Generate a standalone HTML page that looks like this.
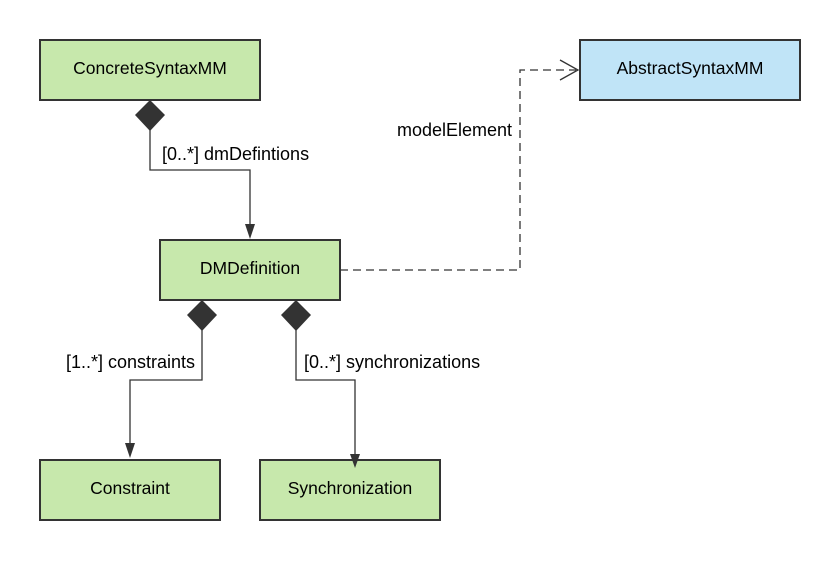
<!DOCTYPE html>
<html><head><meta charset="utf-8"><style>
body{margin:0;background:#fff;}
svg text{font-family:"Liberation Sans",sans-serif;font-size:18px;fill:#000;}
</style></head><body>
<svg width="840" height="560" xmlns="http://www.w3.org/2000/svg">
<g stroke="#333" stroke-width="2">
<rect x="40" y="40" width="220" height="60" fill="#c7e8ac"/>
<rect x="580" y="40" width="220" height="60" fill="#c0e4f7"/>
<rect x="160" y="240" width="180" height="60" fill="#c7e8ac"/>
<rect x="40" y="460" width="180" height="60" fill="#c7e8ac"/>
<rect x="260" y="460" width="180" height="60" fill="#c7e8ac"/>
</g>
<g fill="none" stroke="#333" stroke-width="1.3">
<polyline points="150,130 150,170 250,170 250,226"/>
<polyline points="202,330 202,380 130,380 130,446"/>
<polyline points="296,330 296,380 355,380 355,456"/>
<polyline points="340,270 520,270 520,70 576,70" stroke-dasharray="8,5"/>
<polyline points="560,60 578,70 560,80"/>
</g>
<g fill="#333">
<polygon points="150,100 165,115 150,131 135,115"/>
<polygon points="202,300 217,315 202,331 187,315"/>
<polygon points="296,300 311,315 296,331 281,315"/>
<polygon points="245,224 255,224 250,239"/>
<polygon points="125,443 135,443 130,458"/>
<polygon points="350,454 360,454 355,468"/>
</g>
<g text-anchor="middle" fill="#333">
<text x="150" y="74" style="font-size:17.5px">ConcreteSyntaxMM</text>
<text x="690" y="74" style="font-size:17.5px">AbstractSyntaxMM</text>
<text x="250" y="274" style="font-size:17.5px">DMDefinition</text>
<text x="130" y="494" style="font-size:17.5px">Constraint</text>
<text x="350" y="494" style="font-size:17.5px">Synchronization</text>
</g>
<text x="162" y="160">[0..*] dmDefintions</text>
<text x="397" y="136">modelElement</text>
<text x="66" y="368">[1..*] constraints</text>
<text x="304" y="368">[0..*] synchronizations</text>
</svg>
</body></html>
